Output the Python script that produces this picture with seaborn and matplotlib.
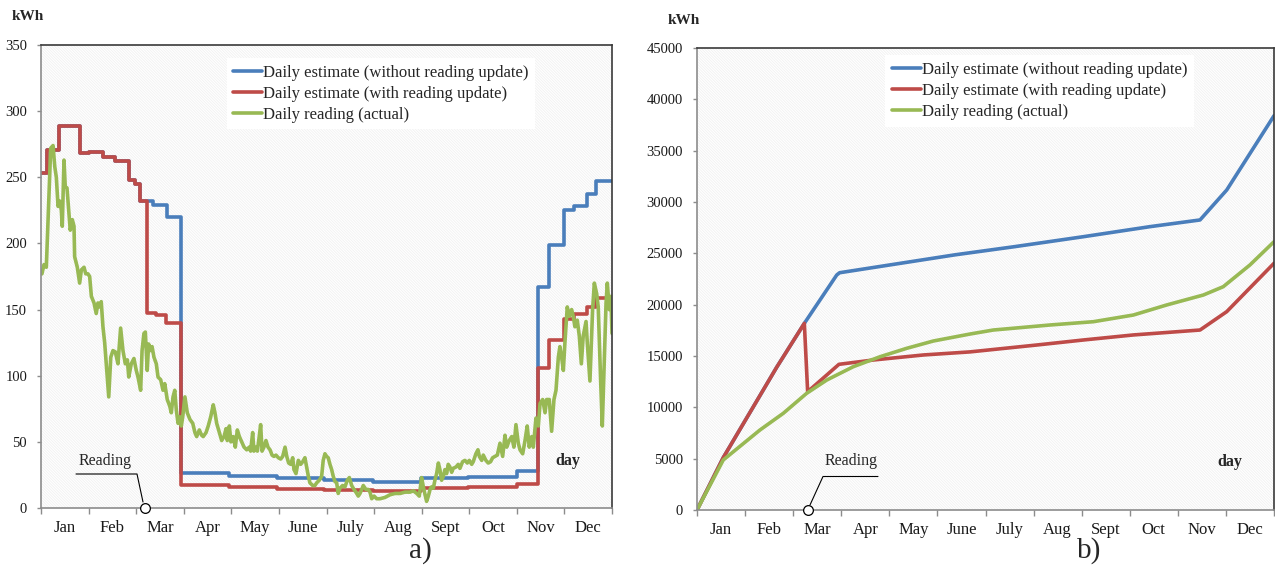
import numpy as np
import matplotlib
matplotlib.use("Agg")
import matplotlib.pyplot as plt
import seaborn as sns
from matplotlib.patches import Rectangle
from matplotlib.lines import Line2D

# ---------------- data ----------------
months = ["Jan", "Feb", "Mar", "Apr", "May", "June", "July", "Aug", "Sept", "Oct", "Nov", "Dec"]
series_labels = ["Daily estimate (without reading update)",
                 "Daily estimate (with reading update)",
                 "Daily reading (actual)"]

# panel a) daily values (kWh per day)
blue_day = [0, 4, 11.3, 24.7, 31, 39.6, 47.5, 56, 59.9, 63.1, 71.6, 80.7, 89.7, 120, 151, 181,
            212, 243, 273, 304, 318, 325, 334, 341, 349, 355, 365]
blue_kwh = [253, 271, 289, 268, 269, 265.6, 262.6, 248, 245, 232, 229, 220, 26.7, 24.2, 22.4, 21.0,
            19.3, 22.4, 23.7, 28.0, 167, 199, 225, 228, 237, 247, 247]

red_day = [0, 4, 11.3, 24.7, 31, 39.6, 47.5, 56, 59.9, 63.1, 68, 73.7, 80.1, 89.7, 120, 151, 181,
           212, 243, 273, 304, 318, 325, 334, 341, 349, 355, 365]
red_kwh = [253, 271, 289, 268, 269, 265.6, 262.6, 248, 245, 232, 147.6, 146, 140, 17.4, 15.6, 14.4, 13.5,
           12.9, 14.9, 16.1, 18.5, 106, 127, 143, 147, 152, 159, 159]

green_day = [0.6, 1.9, 3.4, 6.2, 7.7, 8.8, 9.8, 10.9, 12.0, 13.0,
             13.6, 14.7, 15.5, 16.6, 17.7, 18.7, 20.0, 21.1, 21.5, 23.2,
             24.7, 25.8, 27.5, 28.6, 30.0, 31.1, 32.2, 33.9, 35.3, 36.4,
             37.5, 38.5, 39.6, 40.7, 41.7, 43.3, 44.6, 46.0, 47.5, 49.2,
             50.9, 52.4, 53.9, 55.2, 56.1, 57.7, 59.4, 60.9, 62.0, 63.7,
             64.6, 65.8, 66.7, 67.9, 68.8, 70.1, 71.0, 72.2, 73.7, 74.8,
             76.5, 78.0, 79.1, 80.7, 82.3, 83.3, 84.4, 85.5, 86.5, 87.6,
             88.7, 89.7, 90.6, 92.0, 93.5, 95.2, 97.0, 98.4, 99.5, 101.2,
             102.7, 103.7, 105.5, 106.9, 108.5, 110.1, 111.2, 112.3, 114.0, 115.5,
             117.0, 118.3, 119.1, 120.4, 121.4, 122.9, 124.2, 125.5, 126.8, 128.3,
             129.8, 131.5, 133.1, 134.0, 135.3, 136.1, 137.4, 138.3, 139.5, 140.4,
             141.3, 142.5, 143.8, 145.1, 146.4, 147.7, 148.9, 150.2, 151.7, 153.2,
             154.5, 156.0, 157.1, 158.3, 159.6, 160.9, 161.7, 163.0, 164.5, 166.0,
             167.3, 168.7, 169.8, 170.9, 171.9, 173.7, 175.1, 176.2, 177.9, 179.4,
             180.4, 181.5, 182.6, 183.6, 184.7, 185.8, 186.8, 187.9, 189.0, 190.0,
             191.1, 192.8, 194.3, 195.8, 197.1, 198.6, 200.1, 201.3, 202.8, 203.9,
             205.0, 206.0, 207.7, 209.2, 210.3, 211.4, 212.9, 214.6, 216.7, 219.9,
             223.1, 226.3, 229.5, 232.7, 235.9, 238.0, 240.2, 241.8, 243.3, 244.4,
             245.5, 246.5, 247.6, 248.7, 249.7, 250.8, 251.8, 252.9, 254.0, 255.0,
             256.1, 257.2, 258.2, 259.3, 260.3, 261.4, 262.5, 263.5, 265.3, 266.7,
             267.8, 269.5, 271.0, 272.5, 273.8, 275.3, 276.3, 278.0, 279.3, 280.2,
             281.7, 282.7, 284.4, 285.9, 287.4, 288.7, 290.2, 291.7, 293.4, 295.1,
             296.6, 297.7, 299.3, 300.9, 302.3, 303.6, 305.1, 306.2, 307.9, 309.4,
             310.8, 312.1, 313.7, 314.7, 316.4, 317.9, 319.0, 320.7, 322.2, 323.2,
             324.9, 326.4, 327.9, 329.2, 330.7, 331.7, 332.8, 333.9, 334.9, 336.4,
             337.7, 339.2, 340.2, 341.3, 342.8, 344.1, 345.4, 346.6, 348.4, 349.2,
             350.9, 352.6, 353.7, 355.2, 356.2, 357.8, 358.8, 359.9, 361.2, 362.0,
             363.3, 364.3, 365.0]
green_kwh = [177, 184, 182, 272, 274, 258, 250, 228, 232, 225,
             213, 263, 243, 242, 225, 210, 218, 213, 190, 182,
             170, 180, 182, 177, 177, 175, 160, 155, 147, 155,
             152, 156, 137, 125, 109, 84, 114, 119, 118, 109,
             136, 119, 109, 112, 99, 109, 113, 104, 99, 89,
             119, 132, 133, 104, 124, 119, 122, 114, 109, 99,
             97, 89, 94, 82, 77, 72, 84, 89, 74, 64,
             69, 62, 69, 84, 72, 67, 64, 57, 54, 59,
             55, 54, 57, 62, 69, 78, 72, 64, 57, 51,
             54, 60, 51, 62, 50, 54, 46, 59, 54, 50,
             46, 44, 46, 43, 57, 43, 46, 43, 54, 63,
             43, 46, 51, 46, 44, 40, 39, 40, 38, 37,
             39, 46, 39, 34, 33, 38, 29, 26, 36, 33,
             35, 38, 31, 24, 19, 17, 17, 19, 21, 24,
             36, 41, 39, 38, 33, 29, 24, 20, 19, 11,
             15, 17, 16, 21, 23, 17, 14, 12, 9, 11,
             14, 17, 14, 14, 12, 7, 9, 7, 7, 8,
             10, 11, 11, 12, 12, 13, 11, 9, 23, 16,
             10, 5, 9, 14, 16, 15, 21, 26, 34, 29,
             21, 24, 29, 26, 33, 31, 27, 30, 31, 33,
             30, 35, 36, 34, 36, 33, 35, 41, 44, 39,
             36, 40, 36, 34, 35, 38, 39, 40, 49, 39,
             55, 46, 51, 54, 46, 63, 49, 44, 41, 51,
             62, 46, 54, 46, 68, 62, 79, 82, 72, 82,
             82, 58, 82, 89, 114, 122, 114, 104, 125, 152,
             145, 150, 145, 137, 142, 130, 109, 130, 141, 125,
             96, 150, 170, 162, 152, 94, 62, 104, 155, 170,
             150, 160, 132]

# panel b) cumulative values (kWh)
cum_blue_day = [0, 16.6, 33.5, 50.4, 67.9, 88.4, 90.2, 163, 200.9, 244.4, 286.6, 318.2, 335.1, 365]
cum_blue_kwh = [0, 5100, 9500, 13900, 18180, 22890, 23110, 24850, 25650, 26620, 27600, 28250, 31170, 38400]

cum_red_day = [0, 16.6, 33.5, 50.4, 67.9, 70.0, 89.8, 111.5, 143.2, 172.7, 214.9, 244.4, 276.0, 318.2, 335.1, 365]
cum_red_kwh = [0, 5100, 9500, 13900, 18180, 11520, 14190, 14610, 15100, 15400, 16070, 16560, 17050, 17530, 19320, 24030]

cum_green_day = [0, 16.6, 39.8, 54.6, 69.4, 82.1, 98.9, 115.8, 132.7, 149.5, 172.7, 187.4, 223.3, 250.7,
                 276.0, 297.1, 320.3, 332.9, 349.8, 365]
cum_green_kwh = [0, 4870, 7790, 9420, 11370, 12660, 13960, 14930, 15750, 16460, 17140, 17530, 18020, 18340,
                 18990, 19970, 20940, 21750, 23870, 26130]

reading_day_a = 66.7
reading_day_b = 70.4

# ---------------- style ----------------
sns.set_theme(style="white")
plt.rcParams["font.family"] = ["Liberation Serif", "DejaVu Serif"]
plt.rcParams["hatch.linewidth"] = 0.6

C_BLUE = "#4a7ebb"
C_RED = "#be4b48"
C_GREEN = "#98b954"
LW = 2.6

W, H = 1275, 566
fig = plt.figure(figsize=(W / 100, H / 100), dpi=100)
axL = fig.add_axes([41 / W, 1 - 508 / H, (612 - 41) / W, (508 - 45) / H])
axR = fig.add_axes([697 / W, 1 - 510 / H, (1274 - 697) / W, (510 - 48) / H])


def style_axes(ax, ymax, ystep):
    ax.set_facecolor("white")
    ax.add_patch(Rectangle((0, 0), 1, 1, transform=ax.transAxes, facecolor="white",
                           edgecolor="#f1f1f1", hatch="\\" * 12, lw=0, zorder=0))
    ax.set_xlim(0, 365)
    ax.set_ylim(0, ymax)
    ax.set_yticks(np.arange(0, ymax + 1, ystep))
    edges = np.linspace(0, 365, 13)
    ax.set_xticks(edges)
    ax.set_xticklabels([])
    ax.set_xticks((edges[:-1] + edges[1:]) / 2, minor=True)
    ax.set_xticklabels(months, minor=True)
    ax.tick_params(axis="x", which="major", bottom=True, length=4, width=1, color="#8c8c8c", direction="out")
    ax.tick_params(axis="x", which="minor", bottom=True, length=0, pad=9, labelsize=12, labelcolor="#1a1a1a")
    ax.tick_params(axis="y", left=True, length=3, width=1, color="#8c8c8c", pad=7, labelsize=10.5,
                   labelcolor="#1a1a1a", direction="out")
    ax.set_xlabel("")
    ax.set_ylabel("")
    for s in ["left", "bottom"]:
        ax.spines[s].set_color("#8c8c8c")
        ax.spines[s].set_linewidth(1.2)
    for s in ["top", "right"]:
        ax.spines[s].set_color("#3a3a3a")
        ax.spines[s].set_linewidth(1.2)


# ---- panel a ----
sns.lineplot(x=blue_day, y=blue_kwh, ax=axL, color=C_BLUE, lw=LW, drawstyle="steps-post",
             estimator=None, sort=False, label=series_labels[0])
sns.lineplot(x=red_day, y=red_kwh, ax=axL, color=C_RED, lw=LW, drawstyle="steps-post",
             estimator=None, sort=False, label=series_labels[1])
sns.lineplot(x=green_day, y=green_kwh, ax=axL, color=C_GREEN, lw=LW,
             estimator=None, sort=False, label=series_labels[2])
style_axes(axL, 350, 50)

# ---- panel b ----
sns.lineplot(x=cum_blue_day, y=cum_blue_kwh, ax=axR, color=C_BLUE, lw=LW,
             estimator=None, sort=False, label=series_labels[0])
sns.lineplot(x=cum_red_day, y=cum_red_kwh, ax=axR, color=C_RED, lw=LW,
             estimator=None, sort=False, label=series_labels[1])
sns.lineplot(x=cum_green_day, y=cum_green_kwh, ax=axR, color=C_GREEN, lw=LW,
             estimator=None, sort=False, label=series_labels[2])
style_axes(axR, 45000, 5000)

for ax, anchor in [(axL, (0.325, 0.972)), (axR, (0.326, 0.984))]:
    leg = ax.legend(loc="upper left", bbox_to_anchor=anchor, borderaxespad=0, borderpad=0.4,
                    fontsize=12, handlelength=1.75, handletextpad=0.05, labelspacing=0.3,
                    frameon=True, fancybox=False, facecolor="white", edgecolor="none", framealpha=1)
    for lh in leg.get_lines():
        lh.set_linewidth(LW)

# reading markers
for ax, rd in [(axL, reading_day_a), (axR, reading_day_b)]:
    ax.plot([rd], [0], marker="o", ms=7, mfc="white", mec="black", mew=0.9,
            clip_on=False, zorder=6, ls="none")


def fx(x):
    return x / W


def fy(y):
    return 1 - y / H


fig.add_artist(Line2D([fx(76), fx(137), fx(143)], [fy(474), fy(474), fy(502)],
                      transform=fig.transFigure, color="black", lw=0.8))
fig.add_artist(Line2D([fx(878), fx(823), fx(810)], [fy(476.5), fy(476.5), fy(505)],
                      transform=fig.transFigure, color="black", lw=0.8))
fig.text(fx(79), fy(461), "Reading", fontsize=11.5, ha="left", va="center")
fig.text(fx(825), fy(461), "Reading", fontsize=11.5, ha="left", va="center")

fig.text(fx(12), fy(17), "kWh", fontsize=11, fontweight="bold", ha="left", va="center")
fig.text(fx(668), fy(20), "kWh", fontsize=11, fontweight="bold", ha="left", va="center")
fig.text(fx(568), fy(461), "day", fontsize=11.5, fontweight="bold", ha="center", va="center")
fig.text(fx(1230), fy(462), "day", fontsize=11.5, fontweight="bold", ha="center", va="center")

fig.text(fx(420), fy(551), "a)", fontsize=21, ha="center", va="center")
fig.text(fx(1089), fy(551), "b)", fontsize=21, ha="center", va="center")

fig.savefig("out.png", dpi=100)
